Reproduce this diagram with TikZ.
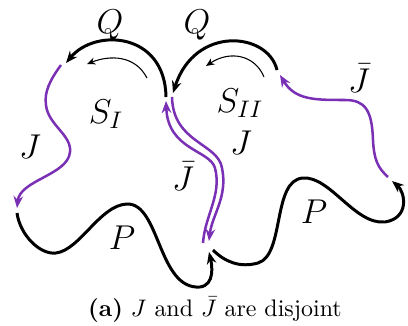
\documentclass[tikz,border=0pt]{standalone}
\usetikzlibrary{arrows.meta}
\definecolor{jpurple}{RGB}{122,48,180}
\begin{document}
\begin{tikzpicture}[x=0.418pt,y=-0.418pt,
  blk/.style={line width=1.25pt,black},
  pur/.style={line width=1.05pt,jpurple},
  thin/.style={line width=0.45pt,black},
  tipb/.style={-{Stealth[length=5pt,width=4pt]}},
  tipt/.style={-{Stealth[length=3.5pt,width=3pt]}},
  lbl/.style={font=\Large}]
\useasboundingbox (0,0) rectangle (408,326);
% coordinates
\coordinate (qls) at (166,97);
\coordinate (qle) at (66,63);
\coordinate (tls) at (147,78);
\coordinate (tle) at (87,64);
\coordinate (qrs) at (277,70);
\coordinate (qre) at (173,93);
\coordinate (trs) at (264,77);
\coordinate (tre) at (206,66);
\coordinate (jls) at (61,65);
\coordinate (jle) at (17,208);
\coordinate (pls) at (17,213);
\coordinate (ple) at (209,252);
\coordinate (prs) at (213,250);
\coordinate (pre) at (392,181);
\coordinate (jrs) at (388,177);
\coordinate (jre) at (280,75);
\coordinate (dls) at (203,243);
\coordinate (dle) at (166,101);
\coordinate (drs) at (172,97);
\coordinate (dre) at (209,241);
% Q arcs
\draw[blk,tipb] (qls) .. controls (165,32) and (95,28) .. (qle);
\draw[thin,tipt] (tls) .. controls (135,55) and (110,55) .. (tle);
\draw[blk,tipb] (qrs) .. controls (268,32) and (195,25) .. (qre);
\draw[thin,tipt] (trs) .. controls (255,55) and (230,50) .. (tre);
% left J
\draw[pur,tipb] (jls) .. controls (50,80) and (44,92) .. (46,105)
  .. controls (48,125) and (72,135) .. (70,152)
  .. controls (68,175) and (20,180) .. (jle);
% P
\draw[blk,tipb] (pls) .. controls (20,235) and (40,255) .. (56,253)
  .. controls (80,250) and (100,205) .. (127,204)
  .. controls (160,203) and (158,290) .. (200,287)
  .. controls (215,285) and (212,265) .. (ple);
\draw[blk,tipb] (prs) .. controls (225,262) and (240,268) .. (258,263)
  .. controls (285,255) and (272,180) .. (303,178)
  .. controls (330,176) and (355,225) .. (385,222)
  .. controls (410,218) and (405,192) .. (pre);
% right Jbar
\draw[pur,tipb] (jrs) .. controls (378,168) and (374,160) .. (373,140)
  .. controls (372,110) and (365,100) .. (345,100)
  .. controls (315,100) and (295,100) .. (jre);
% double strands
\draw[pur,tipb] (dls) .. controls (205,215) and (222,195) .. (215,168)
  .. controls (210,150) and (168,150) .. (dle);
\draw[pur,tipb] (drs) .. controls (173,143) and (218,143) .. (222,168)
  .. controls (228,197) and (212,215) .. (dre);
% labels
\node[lbl] (lq1) at (110,25) {$Q$};
\node[lbl] (lq2) at (197,25) {$Q$};
\node[lbl] (ls1) at (106,114) {$S_I$};
\node[lbl] (ls2) at (240,103) {$S_{II}$};
\node[lbl] (lj1) at (30,147) {$J$};
\node[lbl] (lj2) at (241,143) {$J$};
\node[lbl] (ljb1) at (183,176) {$\bar J$};
\node[lbl] (ljb2) at (359,78) {$\bar J$};
\node[lbl] (lp1) at (122,238) {$P$};
\node[lbl] (lp2) at (314,212) {$P$};
\node (cap) at (215,310) {\textbf{(a)} $J$ and $\bar{J}$ are disjoint};
\end{tikzpicture}
\end{document}
